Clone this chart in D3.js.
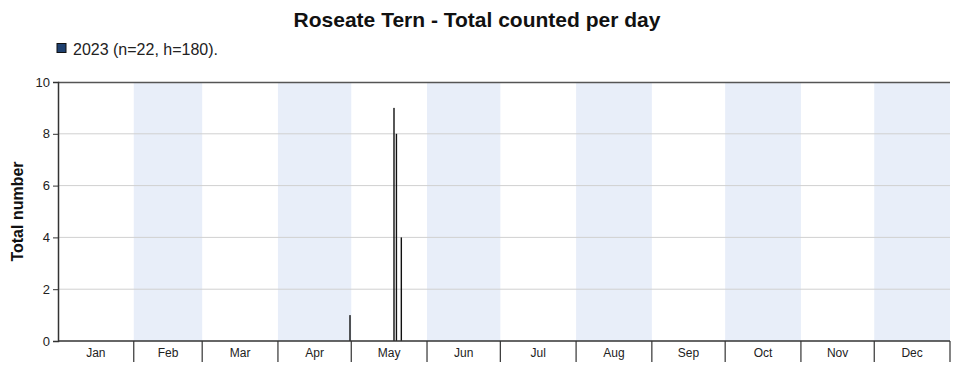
<!DOCTYPE html>
<html>
<head>
<meta charset="utf-8">
<script src="https://cdn.jsdelivr.net/npm/d3@7"></script>
<style>
  body { margin: 0; background: #fff; }
  text { font-family: "Liberation Sans", Arial, sans-serif; }
</style>
</head>
<body>
<script>
var width = 965,
    height = 371;

// mois et nombre de jours (année 2023)
const months = ["Jan", "Feb", "Mar", "Apr", "May", "Jun", "Jul", "Aug", "Sep", "Oct", "Nov", "Dec"];
const monthDays = [31, 28, 31, 30, 31, 30, 31, 31, 30, 31, 30, 31];

// comptages par jour (jour de l'année, 0 = 1er janvier)
const countDays = [119, 137, 138, 140];
const countValues = [1, 9, 8, 4];

const yTicks = [0, 2, 4, 6, 8, 10];

var margin = { top: 82, right: 15, bottom: 30, left: 58 };

var svg = d3.select("body").append("svg")
    .attr("width", width)
    .attr("height", height);

var x = d3.scaleLinear()
    .domain([0, 365])
    .range([margin.left, width - margin.right]);

var y = d3.scaleLinear()
    .domain([0, 10])
    .range([height - margin.bottom, margin.top]);

// début de chaque mois
var monthStart = [];
var acc = 0;
monthDays.forEach(function (d) { monthStart.push(acc); acc += d; });

// bandes bleues pour les mois pairs
svg.append("g").selectAll("rect")
    .data(months.map((m, i) => i).filter(i => i % 2 === 1))
    .join("rect")
    .attr("x", i => x(monthStart[i]))
    .attr("width", i => x(monthStart[i] + monthDays[i]) - x(monthStart[i]))
    .attr("y", y(10))
    .attr("height", y(0) - y(10))
    .attr("fill", "#e8eef9");

// grille horizontale
svg.append("g").selectAll("line")
    .data(yTicks.filter(t => t > 0 && t < 10))
    .join("line")
    .attr("x1", x(0))
    .attr("x2", x(365))
    .attr("y1", d => y(d))
    .attr("y2", d => y(d))
    .attr("stroke", "#d0d0d0")
    .attr("stroke-width", 1);

// bordure du haut
svg.append("line")
    .attr("x1", x(0)).attr("x2", x(365))
    .attr("y1", y(10) + 0.5).attr("y2", y(10) + 0.5)
    .attr("stroke", "#555").attr("stroke-width", 1.5);

// barres
svg.append("g").selectAll("rect")
    .data(countDays.map((d, i) => ({ day: d, value: countValues[i] })))
    .join("rect")
    .attr("x", d => x(d.day + 0.2))
    .attr("width", 1.4)
    .attr("y", d => y(d.value))
    .attr("height", d => y(0) - y(d.value))
    .attr("fill", "#111");

// axe y
var yAxis = svg.append("g")
    .attr("transform", `translate(${margin.left},0)`)
    .call(d3.axisLeft(y).tickValues(yTicks).tickSize(5).tickPadding(3));
yAxis.select(".domain").attr("stroke", "#333").attr("stroke-width", 1.5);
yAxis.selectAll(".tick line").attr("stroke", "#333");
yAxis.selectAll("text")
    .style("font-family", "Liberation Sans, Arial, sans-serif")
    .style("font-size", "13px")
    .attr("fill", "#222");

// axe x : ligne de base
svg.append("line")
    .attr("x1", x(0)).attr("x2", x(365))
    .attr("y1", y(0)).attr("y2", y(0))
    .attr("stroke", "#333").attr("stroke-width", 1.5);

// séparateurs de mois
svg.append("g").selectAll("line")
    .data(monthStart.slice(1).concat([365]))
    .join("line")
    .attr("x1", d => x(d))
    .attr("x2", d => x(d))
    .attr("y1", y(0))
    .attr("y2", y(0) + 21)
    .attr("stroke", "#333")
    .attr("stroke-width", 1.2);

// noms des mois
svg.append("g").selectAll("text")
    .data(months)
    .join("text")
    .attr("x", (m, i) => x(monthStart[i] + monthDays[i] / 2))
    .attr("y", y(0) + 16)
    .attr("text-anchor", "middle")
    .style("font-size", "12px")
    .attr("fill", "#222")
    .text(m => m);

// titre
svg.append("text")
    .attr("x", 477)
    .attr("y", 27)
    .attr("text-anchor", "middle")
    .style("font-size", "21px")
    .style("font-weight", "bold")
    .attr("fill", "#111")
    .text("Roseate Tern - Total counted per day");

// légende
svg.append("rect")
    .attr("x", 57).attr("y", 43.5)
    .attr("width", 9).attr("height", 9)
    .attr("fill", "#1f4170")
    .attr("stroke", "#111");
svg.append("text")
    .attr("x", 73)
    .attr("y", 55)
    .style("font-size", "16px")
    .attr("fill", "#222")
    .text("2023 (n=22, h=180).");

// titre axe y
svg.append("text")
    .attr("transform", `translate(23,${(y(0) + y(10)) / 2}) rotate(-90)`)
    .attr("text-anchor", "middle")
    .style("font-size", "16px")
    .style("font-weight", "bold")
    .attr("fill", "#111")
    .text("Total number");
</script>
</body>
</html>
